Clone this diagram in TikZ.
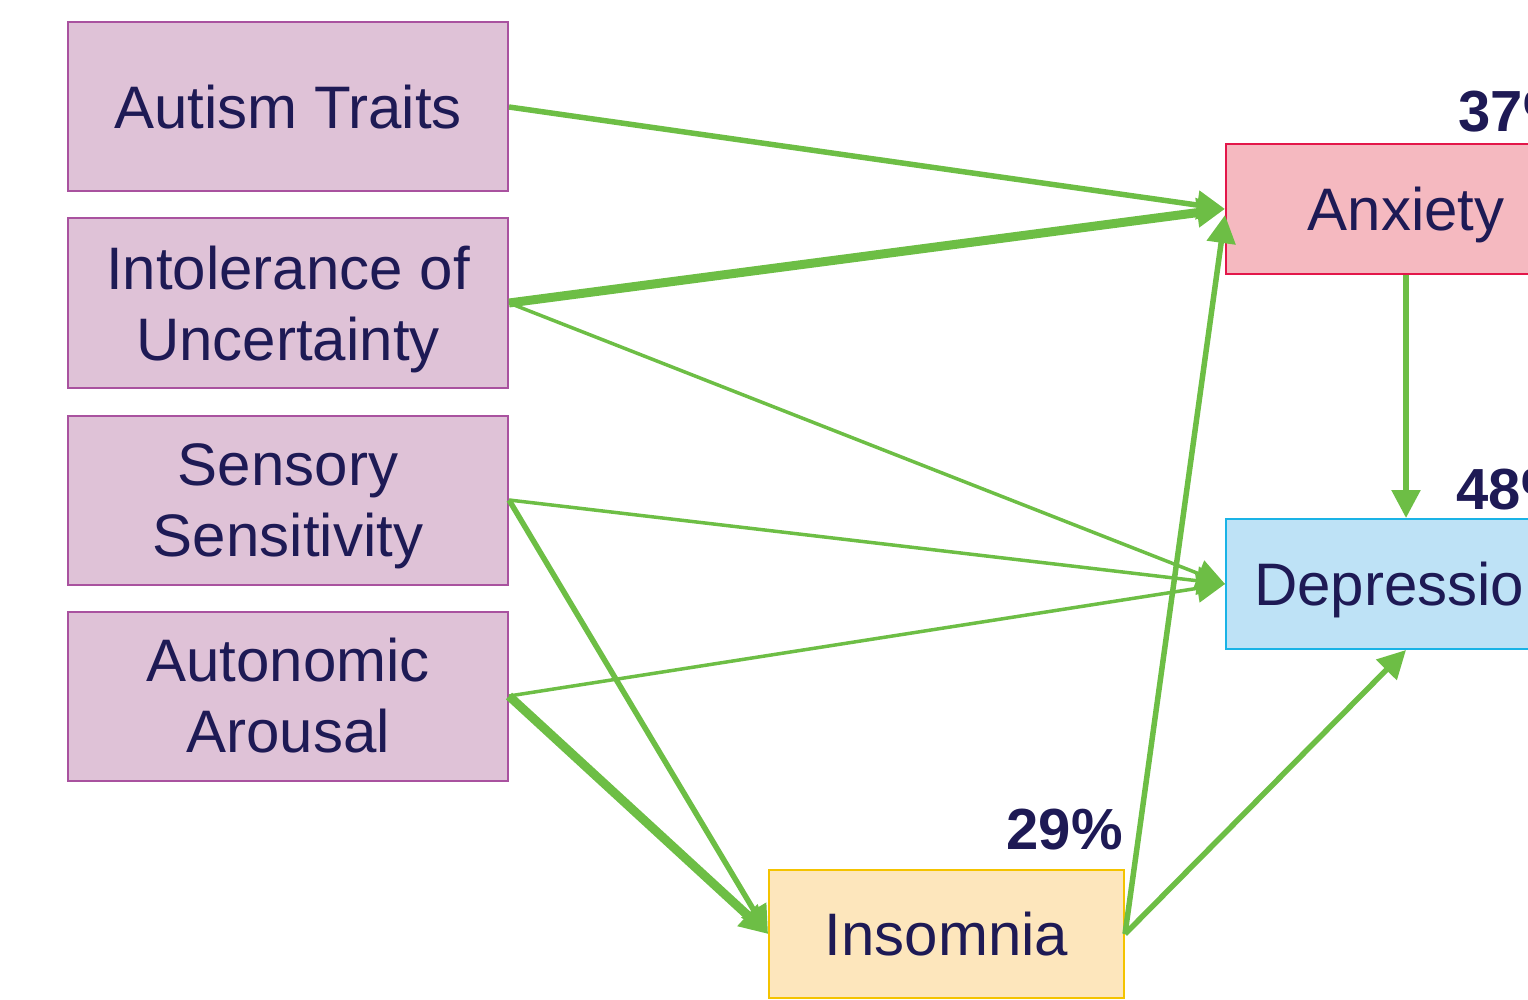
\documentclass[tikz,border=0pt]{standalone}
\usepackage{fontspec}
\setmainfont{Liberation Sans}
\usetikzlibrary{arrows.meta}
\definecolor{txt}{HTML}{1E1A55}
\definecolor{grn}{HTML}{6DBE45}
\definecolor{pfill}{HTML}{DFC2D7}
\definecolor{pdraw}{HTML}{A9529F}
\definecolor{afill}{HTML}{F5B9C0}
\definecolor{adraw}{HTML}{E3174A}
\definecolor{dfill}{HTML}{BEE2F6}
\definecolor{ddraw}{HTML}{1AB3E6}
\definecolor{ifill}{HTML}{FDE6BC}
\definecolor{idraw}{HTML}{F4C300}
\tikzset{
  box/.style={rectangle, inner sep=0pt, line width=2pt, text=txt, align=center,
    font=\fontsize{60}{71}\selectfont},
  pbox/.style={box, fill=pfill, draw=pdraw, minimum width=440pt, minimum height=169pt},
  obox/.style={box, minimum width=360pt, minimum height=130pt},
  pct/.style={text=txt, inner sep=0pt, font=\fontsize{58}{60}\selectfont\bfseries},
  arr/.style={draw=grn, -{Triangle[length=28pt,width=28pt]}},
  thin/.style={arr, line width=3.5pt},
  med/.style={arr, line width=5.5pt},
  thick/.style={arr, line width=9pt}
}
\begin{document}
\begin{tikzpicture}[x=1pt,y=-1pt]
\useasboundingbox (0,0) rectangle (1528,1000);
\clip (0,0) rectangle (1528,1000);
\node[pbox] (aut) at (288,107) {Autism Traits};
\node[pbox, text depth=0pt] (iou) at (288,303) {Intolerance of\\Uncertainty};
\node[pbox, text depth=0pt] (sen) at (288,500) {Sensory\\Sensitivity};
\node[pbox] (ana) at (288,696) {Autonomic\\Arousal};
\node[obox, fill=afill, draw=adraw, text depth=0pt] (anx) at (1406,209) {Anxiety};
\node[obox, fill=dfill, draw=ddraw, text depth=0pt] (dep) at (1406,584) {Depression};
\node[obox, fill=ifill, draw=idraw, minimum width=355pt, minimum height=128pt] (ins) at (946.5,934) {Insomnia};
\node[pct, anchor=base east] (panx) at ([xshift=-12pt,yshift=11pt]anx.north east) {37\%};
\node[pct, anchor=base east] (pdep) at ([xshift=-14pt,yshift=9pt]dep.north east) {48\%};
\node[pct, anchor=base east] (pins) at ([xshift=-2pt,yshift=20pt]ins.north east) {29\%};
\draw[med] (aut.east) -- (anx.west);
\draw[thick] (iou.east) -- (anx.west);
\draw[thin] (iou.east) -- (dep.west);
\draw[thin] (sen.east) -- (dep.west);
\draw[med] (sen.east) -- (ins.west);
\draw[thin] (ana.east) -- (dep.west);
\draw[thick] (ana.east) -- (ins.west);
\draw[med] (ins.east) -- ([yshift=-6pt]anx.west);
\draw[med] (ins.east) -- (dep.south);
\draw[med] (anx.south) -- (dep.north);
\end{tikzpicture}
\end{document}
